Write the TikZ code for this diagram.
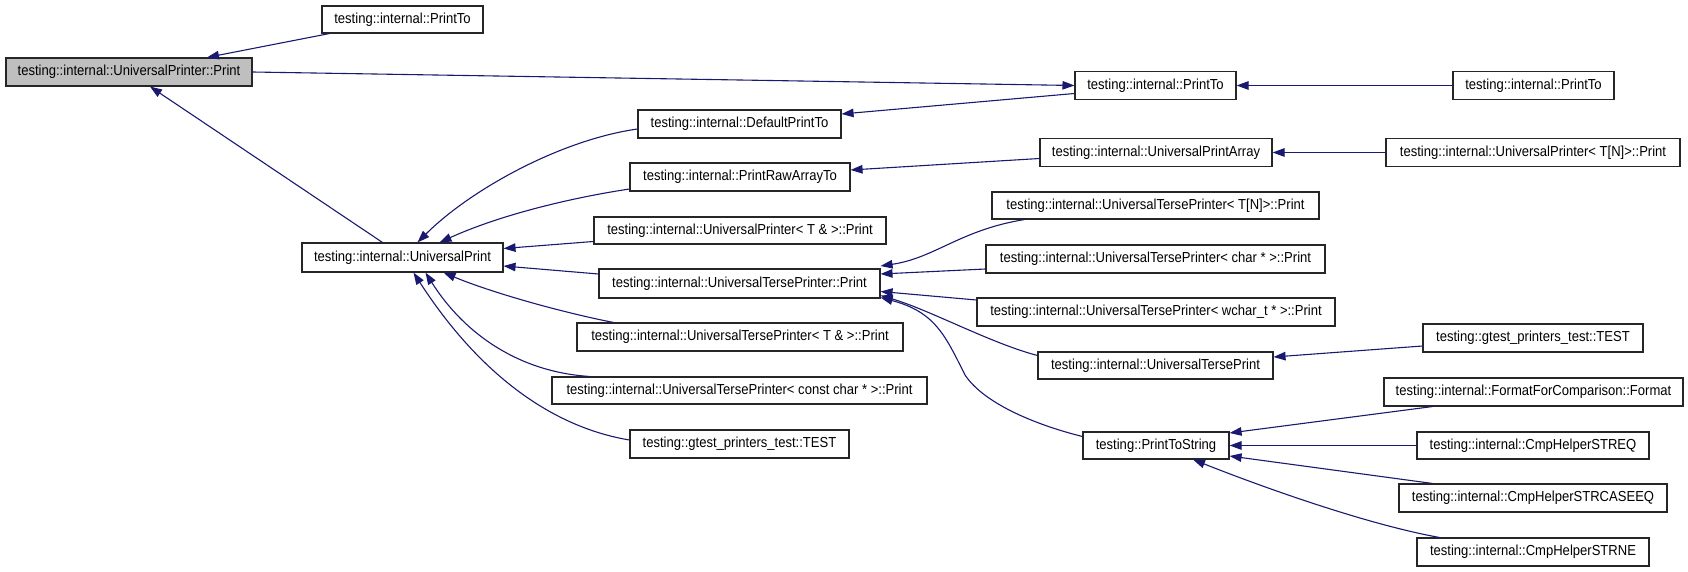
\documentclass[tikz,border=0pt]{standalone}
\usepackage{fontspec}
\setmainfont{Liberation Sans}[FakeStretch=0.9]
\usetikzlibrary{arrows.meta,calc}
\definecolor{edgecol}{HTML}{191970}
\definecolor{rootfill}{HTML}{BFBFBF}
\tikzset{
  box/.style={draw=black!85, line width=1.1pt, fill=white, minimum height=28pt,
    inner sep=0pt, anchor=center, font=\fontsize{14.5}{16}\selectfont},
  conn/.style={draw=edgecol, line width=1.1pt, -{Triangle[length=12pt,width=8.5pt]}},
}
\begin{document}
\begin{tikzpicture}[x=1pt,y=-1pt]
\useasboundingbox (0,0) rectangle (1688,572);
% column 1
\node[box, minimum width=246pt, fill=rootfill] (root) at (129,72) {testing::internal::UniversalPrinter::Print};
% column 2
\node[box, minimum width=161pt, minimum height=27pt] (pt1) at (402.5,19.5) {testing::internal::PrintTo};
\node[box, minimum width=201pt, minimum height=29pt] (up) at (402.5,257.5) {testing::internal::UniversalPrint};
% column 3
\node[box, minimum width=203pt] (dpt) at (739.5,124) {testing::internal::DefaultPrintTo};
\node[box, minimum width=220pt] (prat) at (740,177) {testing::internal::PrintRawArrayTo};
\node[box, minimum width=292pt, minimum height=27pt] (upr) at (740,230.5) {testing::internal::UniversalPrinter< T \& >::Print};
\node[box, minimum width=281pt, minimum height=29pt] (utp) at (739.5,283.5) {testing::internal::UniversalTersePrinter::Print};
\node[box, minimum width=326pt] (utpr) at (740,337) {testing::internal::UniversalTersePrinter< T \& >::Print};
\node[box, minimum width=375pt, minimum height=27pt] (utpcc) at (739.5,390.5) {testing::internal::UniversalTersePrinter< const char * >::Print};
\node[box, minimum width=219pt] (testl) at (739.5,444) {testing::gtest\_printers\_test::TEST};
% column 4
\node[box, minimum width=161pt] (pt2) at (1155.5,85.5) {testing::internal::PrintTo};
\node[box, minimum width=232pt] (upa) at (1156,152.5) {testing::internal::UniversalPrintArray};
\node[box, minimum width=327pt, minimum height=27pt] (utpn) at (1155.5,205.5) {testing::internal::UniversalTersePrinter< T[N]>::Print};
\node[box, minimum width=339pt] (utpc) at (1155.5,259) {testing::internal::UniversalTersePrinter< char * >::Print};
\node[box, minimum width=358pt] (utpw) at (1156,312) {testing::internal::UniversalTersePrinter< wchar\_t * >::Print};
\node[box, minimum width=235pt, minimum height=27pt] (utprint) at (1155.5,365.5) {testing::internal::UniversalTersePrint};
\node[box, minimum width=146pt, minimum height=27pt] (pts) at (1156,445.5) {testing::PrintToString};
% column 5
\node[box, minimum width=161pt] (pt3) at (1533.5,85.5) {testing::internal::PrintTo};
\node[box, minimum width=294pt] (upn) at (1533,152.5) {testing::internal::UniversalPrinter< T[N]>::Print};
\node[box, minimum width=220pt] (testr) at (1533,338) {testing::gtest\_printers\_test::TEST};
\node[box, minimum width=299pt] (fmt) at (1533.5,392) {testing::internal::FormatForComparison::Format};
\node[box, minimum width=232pt, minimum height=27pt] (streq) at (1533,445.5) {testing::internal::CmpHelperSTREQ};
\node[box, minimum width=268pt] (strcase) at (1533,498) {testing::internal::CmpHelperSTRCASEEQ};
\node[box, minimum width=232pt] (strne) at (1533,552) {testing::internal::CmpHelperSTRNE};
% connectors
\draw[conn] ($(pt1.south west)+(8,0)$) -- ($(root.north)+(78,0)$);
\draw[conn] (root.east) -- (pt2.west);
\draw[conn] (pt3.west) -- (pt2.east);
\draw[conn] ($(pt2.west)+(0,8)$) -- ($(dpt.east)+(0,-10)$);
\draw[conn] ($(up.north)+(-20,0)$) -- ($(root.south)+(21,0)$);
\draw[conn] ($(dpt.west)+(0,5)$) .. controls (560,140) and (470,190) .. ($(up.north)+(15,0)$);
\draw[conn] ($(prat.west)+(0,12)$) .. controls (570,198) and (500,215) .. ($(up.north)+(37,0)$);
\draw[conn] ($(upr.west)+(0,11)$) -- ($(up.east)+(0,-9)$);
\draw[conn] ($(utp.west)+(0,-9.5)$) -- ($(up.east)+(0,8.5)$);
\draw[conn] ($(utpr.north west)+(37,0)$) .. controls (560,312) and (490,292) .. ($(up.south)+(41,0)$);
\draw[conn] ($(utpcc.north west)+(38,0)$) .. controls (520,372) and (465,335) .. ($(up.south)+(23,0)$);
\draw[conn] ($(testl.west)+(0,-4)$) .. controls (540,425) and (470,360) .. ($(up.south)+(11,0)$);
\draw[conn] ($(upa.west)+(0,6)$) -- ($(prat.east)+(0,-7)$);
\draw[conn] (upn.west) -- (upa.east);
\draw[conn] ($(utpn.south west)+(33,0)$) .. controls (960,230) and (935,258) .. ($(utp.east)+(0,-17.5)$);
\draw[conn] ($(utpc.west)+(0,10)$) -- ($(utp.east)+(0,-9.5)$);
\draw[conn] ($(utpw.west)+(0,-12)$) -- ($(utp.east)+(0,8)$);
\draw[conn] ($(utprint.west)+(0,-10)$) .. controls (990,343) and (930,310) .. ($(utp.east)+(0,12)$);
\draw[conn] ($(pts.west)+(0,-9)$) .. controls (1040,426) and (985,405) .. (965,375) .. controls (945,335) and (935,312) .. ($(utp.east)+(0,14)$);
\draw[conn] ($(testr.west)+(0,8)$) -- ($(utprint.east)+(0,-8.5)$);
\draw[conn] ($(fmt.south west)+(49,0)$) -- ($(pts.east)+(0,-12.5)$);
\draw[conn] (streq.west) -- (pts.east);
\draw[conn] ($(strcase.north west)+(34,0)$) -- ($(pts.east)+(0,10.5)$);
\draw[conn] ($(strne.north west)+(23,0)$) .. controls (1370,525) and (1270,490) .. ($(pts.south)+(37,0)$);
\end{tikzpicture}
\end{document}
